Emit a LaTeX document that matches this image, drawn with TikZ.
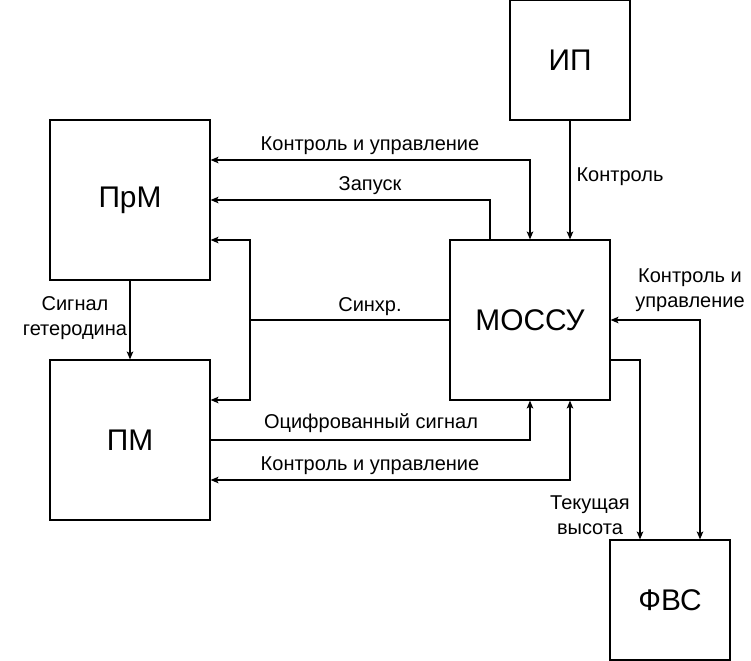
\documentclass[tikz,border=0pt]{standalone}
\usepackage{fontspec}
\setmainfont{Liberation Sans}
\usetikzlibrary{arrows.meta}
\begin{document}
\begin{tikzpicture}[x=0.75pt, y=-0.75pt, >={Stealth[length=6pt,width=5pt,inset=1.5pt]},
  line width=0.9pt,
  bigbox/.style={draw, rectangle, line width=0.9pt, inner sep=0pt, minimum width=120pt, minimum height=120pt, font=\fontsize{22.4}{27}\selectfont},
  smallbox/.style={bigbox, minimum width=90pt, minimum height=90pt},
  lbl/.style={inner sep=0pt, align=center, font=\fontsize{15}{18.5}\selectfont}]
\useasboundingbox (0,0) rectangle (751,661);

\node[smallbox] (ip) at (570,60) {ИП};
\node[bigbox] (prm) at (130,200) {ПрМ};
\node[bigbox] (mossu) at (530,320) {МОССУ};
\node[bigbox] (pm) at (130,440) {ПМ};
\node[smallbox] (fvs) at (670,600) {ФВС};

\coordinate (sync) at (250,320);

\draw[<->] ([yshift=30pt]prm.east) -| (mossu.north);
\draw[->] ([xshift=-30pt]mossu.north) |- (prm.east);
\draw (mossu.west) -- (sync);
\draw[->] (sync) |- ([yshift=-30pt]prm.east);
\draw[->] (sync) |- ([yshift=30pt]pm.east);

\draw[->] (prm.south) -- (pm.north);
\draw[->] (ip.south) -- (ip.south |- mossu.north);

\draw[->] (pm.east) -| (mossu.south);
\draw[<->] ([yshift=-30pt]pm.east) -| ([xshift=30pt]mossu.south);

\draw[->] ([yshift=-30pt]mossu.east) -| ([xshift=-22.5pt]fvs.north);
\draw[<->] (mossu.east) -| ([xshift=22.5pt]fvs.north);

\node[lbl] (ctrltop) at (370,146) {Контроль и управление};
\node[lbl] (start) at (370,186) {Запуск};
\node[lbl] (synclbl) at (370,307) {Синхр.};
\node[lbl] (digit) at (371,423) {Оцифрованный сигнал};
\node[lbl] (ctrlbot) at (370,466) {Контроль и управление};
\node[lbl] (ctrlip) at (620,177) {Контроль};
\node[lbl] (het) at (75,318) {Сигнал\\гетеродина};
\node[lbl] (ctrlfvs) at (690,290) {Контроль и\\управление};
\node[lbl] (height) at (590,515) {Текущая\\высота};
\end{tikzpicture}
\end{document}
